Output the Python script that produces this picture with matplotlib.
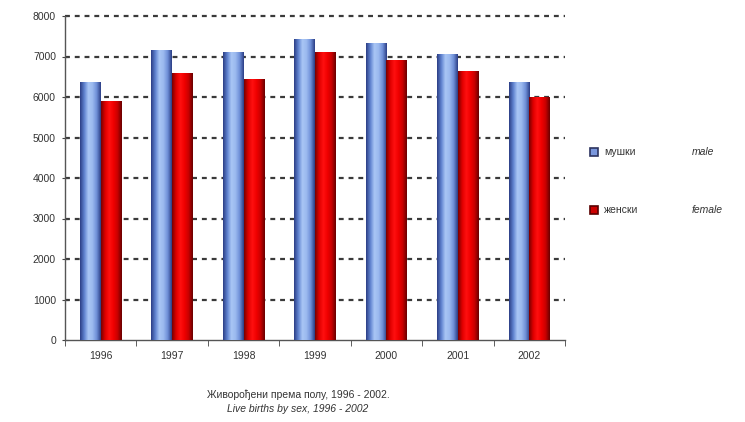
import numpy as np
import matplotlib
matplotlib.use("Agg")
import matplotlib.pyplot as plt
from matplotlib.patches import Rectangle
from matplotlib.colors import LinearSegmentedColormap

plt.rcParams['font.family'] = ['Liberation Sans', 'DejaVu Sans']

years = ['1996', '1997', '1998', '1999', '2000', '2001', '2002']
male = [6370, 7160, 7090, 7410, 7330, 7040, 6370]
female = [5880, 6590, 6440, 7110, 6890, 6640, 5980]
y_ticks = [0, 1000, 2000, 3000, 4000, 5000, 6000, 7000, 8000]

blue_map = LinearSegmentedColormap.from_list(
    'blue', ['#2c3f86', '#5f82cf', '#a9c6f5', '#9bb9ef', '#6f90d8', '#2c3f86'])
red_map = LinearSegmentedColormap.from_list(
    'red', ['#7a0000', '#e00000', '#ff1010', '#f00000', '#c80000', '#6a0000'])

fig = plt.figure(figsize=(7.45, 4.22), dpi=100)
ax = fig.add_axes([65 / 745, 82 / 422, 500 / 745, 324 / 422])

x = np.arange(len(years))
w = 0.29
grad = np.linspace(0, 1, 64).reshape(1, -1)

# Bars, then shaded fill on top of each
for vals, off, cmap in [(male, -w / 2, blue_map), (female, w / 2, red_map)]:
    bars = ax.bar(x + off, vals, width=w, color='none', edgecolor='none', zorder=3)
    for b in bars:
        ax.imshow(grad, cmap=cmap, aspect='auto', zorder=3,
                  extent=(b.get_x(), b.get_x() + b.get_width(), 0, b.get_height()))

ax.set_xlim(-0.5, len(years) - 0.5)
ax.set_ylim(0, 8000)

# Dashed gridlines
ax.set_yticks(y_ticks)
ax.yaxis.grid(True, linestyle=(0, (2.2, 2.2)), color='#3a3a3a', linewidth=1.6, zorder=1)
ax.set_axisbelow(True)
for gl in ax.get_ygridlines():
    gl.set_clip_on(False)
ax.get_ygridlines()[0].set_visible(False)

ax.set_xticks(x)
ax.set_xticklabels(years)
ax.set_xticks(np.arange(-0.5, len(years), 1), minor=True)
ax.tick_params(axis='x', which='major', length=0, pad=8, labelsize=7.5, colors='#333333')
ax.tick_params(axis='x', which='minor', length=4, direction='out', color='#444444')
ax.tick_params(axis='y', length=5, direction='inout', labelsize=7.5, labelcolor='#333333',
               color='#444444', pad=4)

for side in ['top', 'right']:
    ax.spines[side].set_visible(False)
for side in ['left', 'bottom']:
    ax.spines[side].set_color('#555555')
    ax.spines[side].set_linewidth(1.0)

# Legend
fig.patches.append(Rectangle((590 / 745, 1 - 156 / 422), 8 / 745, 8 / 422,
                             transform=fig.transFigure, facecolor='#7a97dd',
                             edgecolor='#2c3460', linewidth=1.2))
fig.patches.append(Rectangle((590 / 745, 1 - 214 / 422), 8 / 745, 8 / 422,
                             transform=fig.transFigure, facecolor='#cc0000',
                             edgecolor='#5a0000', linewidth=1.2))
fig.text(604 / 745, 1 - 152 / 422, 'мушки', fontsize=7.5, color='#333333', va='center')
fig.text(604 / 745, 1 - 210 / 422, 'женски', fontsize=7.5, color='#333333', va='center')
fig.text(692 / 745, 1 - 152 / 422, 'male', fontsize=7.5, color='#333333', va='center', style='italic')
fig.text(692 / 745, 1 - 210 / 422, 'female', fontsize=7.5, color='#333333', va='center', style='italic')

# Caption
fig.text(298 / 745, 1 - 395 / 422, 'Живорођени према полу, 1996 - 2002.', fontsize=7.5,
         ha='center', va='center', color='#333333')
fig.text(298 / 745, 1 - 409 / 422, 'Live births by sex, 1996 - 2002', fontsize=7.5,
         ha='center', va='center', color='#333333', style='italic')

fig.savefig('out.png', dpi=100)
